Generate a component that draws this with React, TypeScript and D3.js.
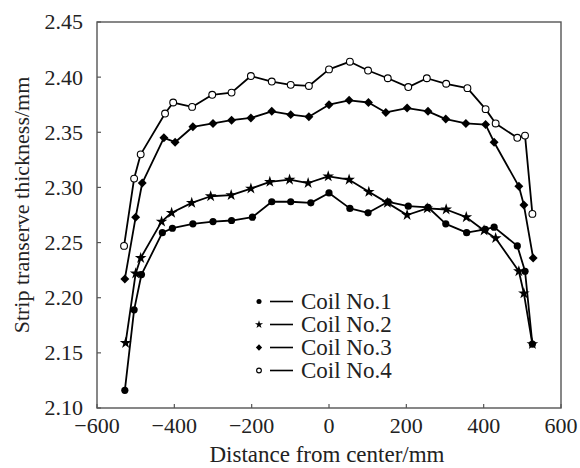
import * as d3 from "d3";

const xTicks = [-600, -400, -200, 0, 200, 400, 600];
const yTicks = [2.1, 2.15, 2.2, 2.25, 2.3, 2.35, 2.4, 2.45];

const coil1X = [-528, -504, -485, -431, -405, -352, -300, -252, -198, -148, -99, -47, 0, 54, 101, 153, 205, 256, 302, 356, 404, 427, 487, 507, 526];
const coil1Y = [2.116, 2.189, 2.221, 2.259, 2.263, 2.267, 2.269, 2.27, 2.273, 2.287, 2.287, 2.286, 2.295, 2.281, 2.277, 2.287, 2.283, 2.282, 2.267, 2.259, 2.262, 2.264, 2.247, 2.224, 2.158];

const coil2X = [-526, -500, -487, -433, -407, -355, -306, -253, -202, -153, -102, -54, -2, 52, 103, 151, 202, 254, 303, 355, 401, 431, 491, 504, 526];
const coil2Y = [2.159, 2.222, 2.236, 2.269, 2.277, 2.286, 2.292, 2.293, 2.299, 2.305, 2.307, 2.304, 2.31, 2.307, 2.296, 2.286, 2.275, 2.281, 2.28, 2.273, 2.261, 2.254, 2.224, 2.204, 2.158];

const coil3X = [-528, -500, -483, -427, -398, -352, -300, -252, -202, -148, -99, -52, 0, 52, 102, 147, 202, 256, 302, 354, 405, 427, 491, 504, 528];
const coil3Y = [2.217, 2.273, 2.304, 2.345, 2.341, 2.355, 2.358, 2.361, 2.363, 2.369, 2.366, 2.364, 2.375, 2.379, 2.377, 2.368, 2.372, 2.369, 2.362, 2.358, 2.357, 2.341, 2.301, 2.284, 2.236];

const coil4X = [-530, -504, -487, -424, -403, -354, -302, -252, -202, -148, -99, -52, 0, 54, 101, 152, 205, 253, 303, 358, 405, 431, 487, 507, 526];
const coil4Y = [2.247, 2.308, 2.33, 2.367, 2.377, 2.373, 2.384, 2.386, 2.401, 2.396, 2.393, 2.392, 2.407, 2.414, 2.406, 2.399, 2.391, 2.399, 2.394, 2.39, 2.371, 2.358, 2.345, 2.347, 2.276];

const seriesNames = ["Coil No.1", "Coil No.2", "Coil No.3", "Coil No.4"];
const seriesMarkers = ["dot", "star", "diamond", "open"];

const series = [
  { name: seriesNames[0], marker: seriesMarkers[0], xs: coil1X, ys: coil1Y },
  { name: seriesNames[1], marker: seriesMarkers[1], xs: coil2X, ys: coil2Y },
  { name: seriesNames[2], marker: seriesMarkers[2], xs: coil3X, ys: coil3Y },
  { name: seriesNames[3], marker: seriesMarkers[3], xs: coil4X, ys: coil4Y },
];

const FONT = '"Liberation Serif", "DejaVu Serif", serif';
const txt = (size: number) => ({ fontFamily: FONT, fontSize: `${size}px`, fill: "#222" });

const Marker = ({ type, x, y, scale = 1 }: { type: string; x: number; y: number; scale?: number }) => {
  if (type === "dot") return <circle cx={x} cy={y} r={3.6 * scale} fill="#000" />;
  if (type === "open")
    return <circle cx={x} cy={y} r={3.4 * scale} fill="#fff" stroke="#000" strokeWidth={1.1} />;
  if (type === "star")
    return (
      <path
        d={d3.symbol().type(d3.symbolStar).size(42 * scale * scale)() || ""}
        transform={`translate(${x},${y})`}
        fill="#000"
      />
    );
  return (
    <path
      d={d3.symbol().type(d3.symbolSquare).size(40 * scale * scale)() || ""}
      transform={`translate(${x},${y}) rotate(45)`}
      fill="#000"
    />
  );
};

const Chart = () => {
  const left = 97;
  const right = 561;
  const top = 22;
  const bottom = 408;

  const x = d3.scaleLinear().domain([-600, 600]).range([left, right]);
  const y = d3.scaleLinear().domain([2.1, 2.45]).range([bottom, top]);

  const line = d3
    .line<[number, number]>()
    .x((d) => x(d[0]))
    .y((d) => y(d[1]));

  return (
    <svg width={580} height={468} style={{ position: "absolute", left: 0, top: 0, background: "#fff" }}>
      {/* frame */}
      <rect x={left} y={top} width={right - left} height={bottom - top} fill="none" stroke="#555" strokeWidth={1.4} />

      {/* y ticks */}
      {yTicks.map((t) => (
        <g key={t}>
          <line x1={left} x2={left + 4} y1={y(t)} y2={y(t)} stroke="#555" strokeWidth={1.2} />
          <text x={83} y={y(t)} dy="0.34em" textAnchor="end" style={txt(22)}>
            {t.toFixed(2)}
          </text>
        </g>
      ))}

      {/* x ticks */}
      {xTicks.map((t) => (
        <g key={t}>
          <line x1={x(t)} x2={x(t)} y1={bottom} y2={bottom - 4} stroke="#555" strokeWidth={1.2} />
          <text x={x(t)} y={433} textAnchor="middle" style={txt(22)}>
            {t < 0 ? `\u2212${Math.abs(t)}` : t}
          </text>
        </g>
      ))}

      {/* axis titles */}
      <text x={327} y={462} textAnchor="middle" style={txt(23)}>
        Distance from center/mm
      </text>
      <text transform="translate(29,205) rotate(-90)" textAnchor="middle" style={txt(22)}>
        Strip transerve thickness/mm
      </text>

      {/* lines */}
      {series.map((s) => (
        <path
          key={s.name}
          d={line(s.xs.map((v, i) => [v, s.ys[i]] as [number, number])) || ""}
          fill="none"
          stroke="#000"
          strokeWidth={1.8}
          strokeLinejoin="round"
        />
      ))}

      {/* markers */}
      {series.map((s) =>
        s.xs.map((v, i) => <Marker key={s.name + i} type={s.marker} x={x(v)} y={y(s.ys[i])} />)
      )}

      {/* legend */}
      {series.map((s, i) => {
        const ly = 301.5 + i * 23;
        return (
          <g key={"lg" + s.name}>
            <Marker type={s.marker} x={259} y={ly} scale={0.7} />
            <line x1={270} x2={293} y1={ly} y2={ly} stroke="#000" strokeWidth={1.6} />
            <text x={301} y={ly} dy="0.34em" style={txt(23)}>
              {s.name}
            </text>
          </g>
        );
      })}
    </svg>
  );
};

export default function App() {
  return <Chart />;
}
